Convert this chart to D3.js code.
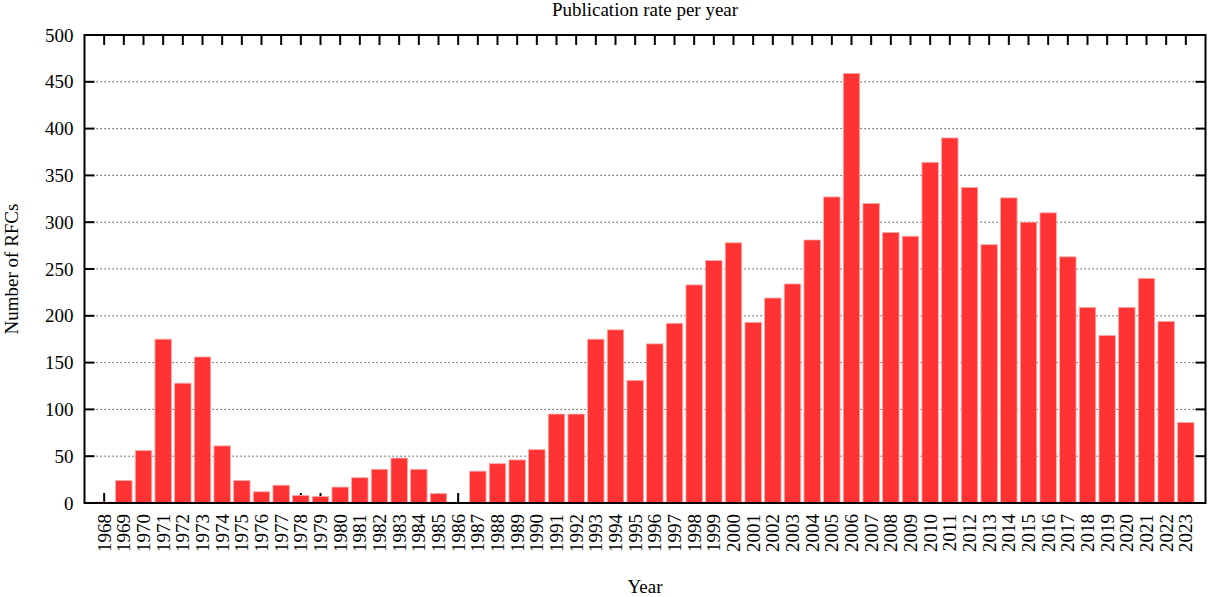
<!DOCTYPE html>
<html><head><meta charset="utf-8">
<script src="https://cdn.jsdelivr.net/npm/d3@7/dist/d3.min.js"></script>
<style>body{margin:0;background:#fff}svg{display:block}</style>
</head><body>
<svg id="chart" width="1208" height="597"></svg>
<script>
const years = ["1968","1969","1970","1971","1972","1973","1974","1975","1976","1977",
  "1978","1979","1980","1981","1982","1983","1984","1985","1986","1987",
  "1988","1989","1990","1991","1992","1993","1994","1995","1996","1997",
  "1998","1999","2000","2001","2002","2003","2004","2005","2006","2007",
  "2008","2009","2010","2011","2012","2013","2014","2015","2016","2017",
  "2018","2019","2020","2021","2022","2023"];
const rfcCounts = [1,24,56,175,128,156,61,24,12,19,
  8,7,17,27,36,48,36,10,0,34,
  42,46,57,95,95,175,185,131,170,192,
  233,259,278,193,219,234,281,327,459,320,
  289,285,364,390,337,276,326,300,310,263,
  209,179,209,240,194,86];
const yTicks = [0,50,100,150,200,250,300,350,400,450,500];
const gridTicks = [50,100,150,200,250,300,350,400,450];
const titleText = "Publication rate per year";
const xTitle = "Year";
const yTitle = "Number of RFCs";

const svg = d3.select("#chart");
const L = 84.5, R = 1205.5, T = 35, B = 503;
const font = "'Liberation Serif','Times New Roman',serif";
const fs = 19;

const x = d3.scalePoint().domain(years).range([L, R]).padding(1);
const y = d3.scaleLinear().domain([0, 500]).range([B, T]);
const barW = x.step() * 0.835;
const tickLen = 10;

// grid
svg.append("g").selectAll("line").data(gridTicks).join("line")
  .attr("x1", L).attr("x2", R)
  .attr("y1", d => y(d)).attr("y2", d => y(d))
  .attr("stroke", "#333").attr("stroke-width", 1)
  .attr("stroke-dasharray", "1.3,2.7");

// bottom x ticks (inward, drawn under bars)
svg.append("g").selectAll("line").data(years).join("line")
  .attr("x1", d => x(d)).attr("x2", d => x(d))
  .attr("y1", B).attr("y2", B - tickLen)
  .attr("stroke", "#000").attr("stroke-width", 2);

// bars
svg.append("g").selectAll("rect").data(years).join("rect")
  .attr("x", d => x(d) - barW / 2)
  .attr("width", barW)
  .attr("y", (d, i) => y(rfcCounts[i]))
  .attr("height", (d, i) => B - y(rfcCounts[i]))
  .attr("fill", "#ff3333")
  .attr("stroke", "#ffa8a8").attr("stroke-width", 0.8);

// top x ticks (mirror)
svg.append("g").selectAll("line").data(years).join("line")
  .attr("x1", d => x(d)).attr("x2", d => x(d))
  .attr("y1", T).attr("y2", T + tickLen)
  .attr("stroke", "#000").attr("stroke-width", 2);

// y ticks left and right
const yt = svg.append("g");
yt.selectAll("line.l").data(yTicks).join("line").attr("class","l")
  .attr("x1", L).attr("x2", L + tickLen)
  .attr("y1", d => y(d)).attr("y2", d => y(d))
  .attr("stroke", "#000").attr("stroke-width", 2);
yt.selectAll("line.r").data(yTicks).join("line").attr("class","r")
  .attr("x1", R).attr("x2", R - tickLen)
  .attr("y1", d => y(d)).attr("y2", d => y(d))
  .attr("stroke", "#000").attr("stroke-width", 2);

// y labels
svg.append("g").selectAll("text").data(yTicks).join("text")
  .attr("x", L - 11).attr("y", d => y(d)).attr("dy", "0.35em")
  .attr("text-anchor", "end")
  .attr("font-family", font).attr("font-size", fs)
  .text(d => d);

// x labels
svg.append("g").selectAll("text").data(years).join("text")
  .attr("transform", d => `translate(${x(d)},${B + 11}) rotate(-90)`)
  .attr("dy", "0.35em")
  .attr("text-anchor", "end")
  .attr("font-family", font).attr("font-size", fs)
  .text(d => d);

// border
svg.append("rect")
  .attr("x", L).attr("y", T).attr("width", R - L).attr("height", B - T)
  .attr("fill", "none").attr("stroke", "#000").attr("stroke-width", 2);

// titles
svg.append("text").attr("x", (L + R) / 2).attr("y", 16)
  .attr("text-anchor", "middle").attr("font-family", font).attr("font-size", fs)
  .text(titleText);
svg.append("text").attr("x", (L + R) / 2).attr("y", 593)
  .attr("text-anchor", "middle").attr("font-family", font).attr("font-size", fs)
  .text(xTitle);
svg.append("text")
  .attr("transform", `translate(18,${(T + B) / 2}) rotate(-90)`)
  .attr("text-anchor", "middle").attr("font-family", font).attr("font-size", fs)
  .text(yTitle);
</script>
</body></html>
